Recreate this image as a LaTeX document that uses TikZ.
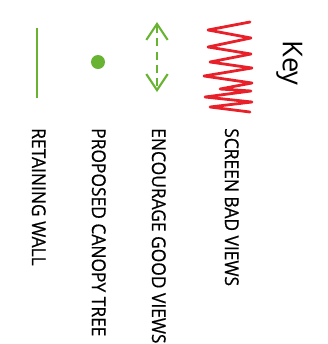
\documentclass[tikz,border=0pt]{standalone}
\usepackage{fontspec}
\setmainfont{Open Sans}
\newfontfamily\keyfont[FakeStretch=0.915,FakeBold=0.6]{Open Sans}
\usetikzlibrary{arrows.meta}
\definecolor{keygreen}{RGB}{104,180,50}
\definecolor{keyred}{RGB}{232,32,42}
\begin{document}
\begin{tikzpicture}[x=0.75pt,y=-0.75pt,
  lbl/.style={rotate=-90,anchor=base west,inner sep=0pt,font=\keyfont\fontsize{14.25pt}{17pt}\selectfont}]
\useasboundingbox (0,0) rectangle (328,344);
% title
\node[rotate=-90,anchor=base west,inner sep=0pt,font=\fontsize{20.5pt}{24pt}\selectfont] (title) at (283,40) {Key};
% screen bad views
\draw[keyred,line width=2.1pt,line join=round,line cap=round]
  (250,22) -- (208,30) -- (251,38) -- (208,47) -- (251,54) -- (210,62) -- (252,68) -- (204,76) -- (252,83) -- (220,89) -- (251,91) -- (205,97) -- (252,102) -- (210,107) -- (250,112);
\node[lbl] (t1) at (225,128) {SCREEN BAD VIEWS};
% encourage good views
\coordinate (a1) at (157,22);
\coordinate (a2) at (157,92);
\draw[keygreen,line width=1.6pt,dash pattern=on 6pt off 4pt,
  {Straight Barb[length=12pt,width=16pt,line width=1.6pt]}-{Straight Barb[length=12pt,width=16pt,line width=1.6pt]}] (a1) -- (a2);
\node[lbl] (t2) at (152,128) {ENCOURAGE GOOD VIEWS};
% tree
\fill[keygreen] (98,62) circle[radius=7];
\node[lbl] (t3) at (92,128) {PROPOSED CANOPY TREE};
% wall
\coordinate (w1) at (37,28);
\coordinate (w2) at (37,98);
\draw[keygreen,line width=1.5pt] (w1) -- (w2);
\node[lbl] (t4) at (32,128) {RETAINING WALL};
\end{tikzpicture}
\end{document}
